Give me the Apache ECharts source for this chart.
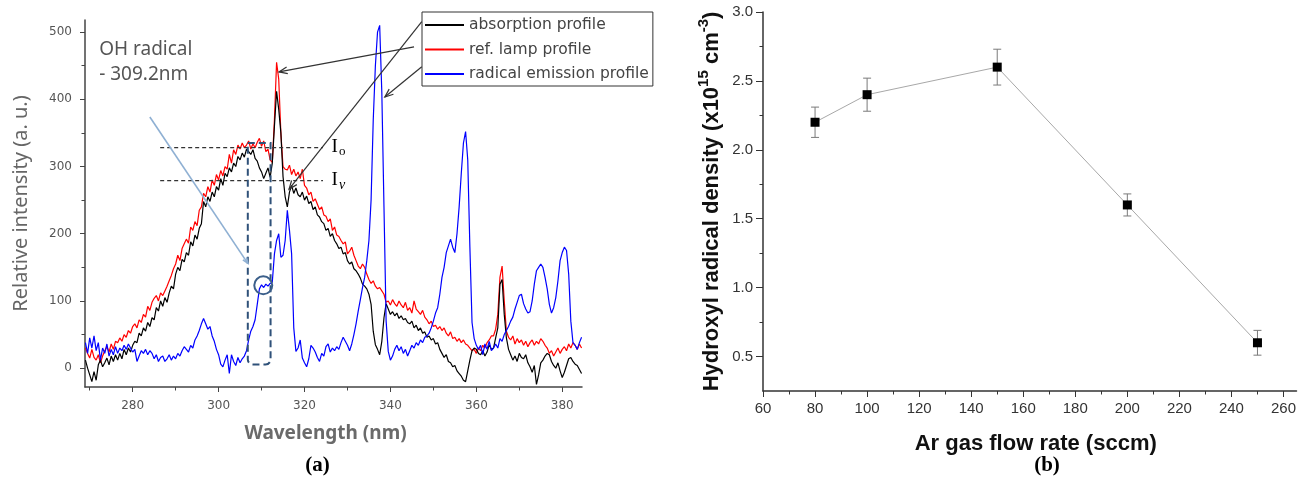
<!DOCTYPE html>
<html>
<head>
<meta charset="utf-8">
<script src="https://cdn.jsdelivr.net/npm/echarts@6/dist/echarts.min.js"></script>
<style>
  html, body { margin: 0; padding: 0; background: #fff; }
  #main { width: 1299px; height: 479px; }
</style>
</head>
<body>
<div id="main"></div>
<script>
// ---- (a) spectra: wavelength grid (nm) and three intensity profiles (a.u.) ----
const wavelengths = [
  269,269.5,270,270.5,271,271.5,272,272.5,273,273.5,
  274,274.5,275,275.5,276,276.5,277,277.5,278,278.5,
  279,279.5,280,280.5,281,281.5,282,282.5,283,283.5,
  284,284.5,285,285.5,286,286.5,287,287.5,288,288.5,
  289,289.5,290,290.5,291,291.5,292,292.5,293,293.5,
  294,294.5,295,295.5,296,296.5,297,297.5,298,298.5,
  299,299.5,300,300.5,301,301.5,302,302.5,303,303.5,
  304,304.5,305,305.5,306,306.5,307,307.5,308,308.5,
  309,309.5,310,310.5,311,311.5,312,312.5,313,313.5,
  314,314.5,315,315.5,316,316.5,317,317.5,318,318.5,
  319,319.5,320,320.5,321,321.5,322,322.5,323,323.5,
  324,324.5,325,325.5,326,326.5,327,327.5,328,328.5,
  329,329.5,330,330.5,331,331.5,332,332.5,333,333.5,
  334,334.5,335,335.5,336,336.5,337,337.5,338,338.5,
  339,339.5,340,340.5,341,341.5,342,342.5,343,343.5,
  344,344.5,345,345.5,346,346.5,347,347.5,348,348.5,
  349,349.5,350,350.5,351,351.5,352,352.5,353,353.5,
  354,354.5,355,355.5,356,356.5,357,357.5,358,358.5,
  359,359.5,360,360.5,361,361.5,362,362.5,363,363.5,
  364,364.5,365,365.5,366,366.5,367,367.5,368,368.5,
  369,369.5,370,370.5,371,371.5,372,372.5,373,373.5,
  374,374.5,375,375.5,376,376.5,377,377.5,378,378.5,
  379,379.5,380,380.5,381,381.5,382,382.5,383,383.5,
  384,384.5
];

const absorption = [
  12,0,-10,-20,-5,-18,5,12,2,8,
  15,5,18,10,20,12,22,14,28,20,
  30,24,34,40,38,52,48,60,55,68,
  62,75,72,90,85,100,92,105,98,112,
  122,118,140,150,145,162,158,172,168,188,
  182,198,192,208,215,248,240,255,248,262,
  255,270,265,282,272,290,285,298,292,305,
  300,315,310,320,314,326,322,318,325,312,
  308,298,292,282,290,298,284,305,360,412,
  385,350,285,255,240,262,272,260,268,258,
  255,262,250,256,245,248,236,240,228,225,
  218,215,205,208,196,200,190,185,178,180,
  170,172,160,155,158,148,145,140,134,125,
  122,118,110,95,55,35,28,20,40,75,
  96,88,80,84,78,82,74,78,72,74,
  68,66,70,60,64,56,60,52,54,46,
  48,42,44,36,38,28,22,16,20,10,
  8,2,4,-4,-8,-12,-18,-20,-4,12,
  26,30,28,22,20,26,18,24,35,28,
  30,45,60,125,132,80,45,28,20,12,
  18,10,22,16,14,20,8,2,-6,4,
  -24,-10,8,12,18,22,20,10,4,0,
  8,-4,-14,-6,4,14,16,10,6,4,
  -2,-8
];

const refLamp = [
  30,22,15,28,16,12,20,8,18,26,
  32,24,36,28,40,38,45,40,50,46,
  56,52,62,66,60,72,68,80,76,92,
  86,98,104,108,100,112,108,115,122,130,
  138,148,155,168,160,178,185,192,186,210,
  205,218,212,235,240,260,255,270,262,280,
  272,288,280,294,286,300,296,318,305,325,
  318,332,326,335,328,332,338,326,334,328,
  336,342,330,338,322,326,310,306,370,455,
  430,350,300,296,295,302,288,296,286,292,
  282,296,272,268,258,262,248,252,244,236,
  240,228,226,218,222,205,210,198,196,190,
  185,188,170,174,180,168,160,152,148,155,
  150,140,132,126,130,122,118,120,115,110,
  98,100,94,102,96,92,100,94,90,98,
  86,90,82,100,88,84,80,86,76,72,
  66,70,62,64,58,62,56,60,52,48,
  54,44,46,40,44,38,42,36,34,30,
  26,28,22,30,26,34,30,38,42,48,
  48,58,80,135,152,100,55,46,42,48,
  36,44,38,42,34,40,32,38,42,34,
  40,36,44,40,34,30,22,26,18,24,
  30,22,28,32,26,36,30,38,34,28,
  36,30
];

const emission = [
  38,22,45,30,48,26,38,12,30,22,
  36,18,28,20,32,22,30,26,34,28,
  36,30,24,28,10,18,26,22,28,20,
  26,22,14,20,10,16,18,10,14,20,
  12,18,14,22,18,26,32,28,24,34,
  30,42,48,56,66,74,66,58,62,48,
  40,28,20,6,2,12,20,-8,20,10,
  4,16,8,14,18,26,42,55,62,72,
  95,118,124,120,125,122,126,128,170,190,
  200,165,168,190,235,205,170,60,25,30,
  42,15,8,2,14,34,30,24,16,10,
  22,18,32,36,24,30,26,32,28,38,
  46,40,34,26,36,50,66,85,102,120,
  135,160,190,250,369,450,500,510,410,240,
  70,25,12,18,28,34,26,32,22,28,
  18,26,34,30,38,34,42,38,46,48,
  52,60,70,82,90,110,135,150,172,182,
  192,180,172,200,240,290,335,352,310,180,
  68,44,34,28,34,20,36,28,40,26,
  30,36,30,44,40,50,56,62,70,76,
  88,98,108,110,96,88,82,84,100,125,
  145,150,155,150,135,118,95,82,90,105,
  130,160,172,180,175,140,70,38,34,28,
  38,46
];

const intensityTicks = [0, 100, 200, 300, 400, 500];
const intensityMinorTicks = [50, 150, 250, 350, 450];
const wavelengthTicks = [280, 300, 320, 340, 360, 380];
const wavelengthMinorTicks = [270, 290, 310, 330, 350, 370];

// ---- (b) OH density versus Ar flow ----
const flowRates = [80, 100, 150, 200, 250];
const radicalDensity = [2.2, 2.4, 2.6, 1.6, 0.6];
const densityError = [0.11, 0.12, 0.13, 0.08, 0.09];
const flowTicks = [60, 80, 100, 120, 140, 160, 180, 200, 220, 240, 260];
const flowMinorTicks = [70, 90, 110, 130, 150, 170, 190, 210, 230, 250];
const densityTicks = [0.5, 1.0, 1.5, 2.0, 2.5, 3.0];
const densityMinorTicks = [0.75, 1.25, 1.75, 2.25, 2.75];

const pairs = (xs, ys) => xs.map((x, i) => [x, ys[i]]);

const leftLabel = { fontFamily: 'DejaVu Sans', fontSize: 12, color: '#555' };
const rightLabel = { fontFamily: 'Liberation Sans', fontSize: 15, color: '#333' };

const GRID_A = { left: 85, top: 20, width: 497, height: 367 };
const GRID_B = { left: 763, top: 12, width: 534, height: 379 };

// helper: a second, label-less axis on the same side that only carries minor ticks
function minorAxis(gridIndex, position, min, max, values, color) {
  return {
    type: 'value', gridIndex, position, min, max, offset: 0,
    axisLine: { show: false, onZero: false },
    axisTick: { show: true, customValues: values, length: 3.5, lineStyle: { color, width: 1 } },
    axisLabel: { show: false }, splitLine: { show: false }
  };
}

const option = {
  backgroundColor: '#fff',
  animation: false,
  grid: [
    Object.assign({ containLabel: false }, GRID_A),
    Object.assign({ containLabel: false }, GRID_B)
  ],
  legend: {
    data: ['absorption profile', 'ref. lamp profile', 'radical emission profile'],
    orient: 'vertical',
    left: 422, top: 12,
    itemWidth: 39, itemHeight: 14, itemGap: 8.5,
    padding: [5, 4, 4, 2],
    borderColor: '#333', borderWidth: 1,
    backgroundColor: '#fff',
    selectedMode: false,
    itemStyle: { opacity: 0, borderWidth: 0 },
    textStyle: { fontFamily: 'DejaVu Sans', fontSize: 15.5, color: '#444' }
  },
  xAxis: [
    {
      type: 'value', gridIndex: 0, position: 'bottom', min: 268.9, max: 384.6,
      name: 'Wavelength (nm)', nameLocation: 'middle', nameGap: 37,
      nameTextStyle: { fontFamily: 'Noto Sans', fontSize: 19, fontWeight: 'bold', color: '#6a6a6a', padding: [0, 16, 0, 0] },
      axisLine: { show: true, onZero: false, lineStyle: { color: '#444', width: 1.5 } },
      axisTick: { show: true, customValues: wavelengthTicks, length: 5, lineStyle: { color: '#444' } },
      axisLabel: Object.assign({ customValues: wavelengthTicks, margin: 13 }, leftLabel),
      splitLine: { show: false }
    },
    minorAxis(0, 'bottom', 268.9, 384.6, wavelengthMinorTicks, '#444'),
    {
      type: 'value', gridIndex: 1, position: 'bottom', min: 60, max: 265,
      name: 'Ar gas flow rate (sccm)', nameLocation: 'middle', nameGap: 42,
      nameTextStyle: { fontFamily: 'Liberation Sans', fontSize: 22, fontWeight: 'bold', color: '#111', padding: [0, 0, 0, 12] },
      axisLine: { show: true, onZero: false, lineStyle: { color: '#333', width: 1.5 } },
      axisTick: { show: true, customValues: flowTicks, length: 6, lineStyle: { color: '#333' } },
      axisLabel: Object.assign({ customValues: flowTicks, margin: 10 }, rightLabel),
      splitLine: { show: false }
    },
    minorAxis(1, 'bottom', 60, 265, flowMinorTicks, '#333')
  ],
  yAxis: [
    {
      type: 'value', gridIndex: 0, position: 'left', min: -28, max: 518,
      name: 'Relative intensity (a. u.)', nameLocation: 'middle', nameGap: 54, nameRotate: 90,
      nameTextStyle: { fontFamily: 'Noto Sans', fontSize: 20, color: '#666' },
      axisLine: { show: true, onZero: false, lineStyle: { color: '#444', width: 1.5 } },
      axisTick: { show: true, customValues: intensityTicks, length: 5, lineStyle: { color: '#444' } },
      axisLabel: Object.assign({ customValues: intensityTicks, margin: 13 }, leftLabel),
      splitLine: { show: false }
    },
    minorAxis(0, 'left', -28, 518, intensityMinorTicks, '#444'),
    {
      type: 'value', gridIndex: 1, position: 'left', min: 0.25, max: 3.0,
      name: '{t|Hydroxyl radical density (x10}{s|15}{t| cm}{s|-3}{t|)}',
      nameLocation: 'middle', nameGap: 40, nameRotate: 90,
      nameTextStyle: {
        rich: {
          t: { fontFamily: 'Liberation Sans', fontWeight: 'bold', fontSize: 22, color: '#111', verticalAlign: 'bottom' },
          s: { fontFamily: 'Liberation Sans', fontWeight: 'bold', fontSize: 15, color: '#111', verticalAlign: 'top', padding: [0, 0, 12, 0] }
        }
      },
      axisLine: { show: true, onZero: false, lineStyle: { color: '#333', width: 1.5 } },
      axisTick: { show: true, customValues: densityTicks, length: 7, lineStyle: { color: '#333' } },
      axisLabel: Object.assign({ customValues: densityTicks, margin: 10, formatter: v => v.toFixed(1) }, rightLabel),
      splitLine: { show: false }
    },
    minorAxis(1, 'left', 0.25, 3.0, densityMinorTicks, '#333')
  ],
  series: [
    {
      name: 'ref. lamp profile', type: 'line', xAxisIndex: 0, yAxisIndex: 0,
      data: pairs(wavelengths, refLamp), symbol: 'none', showSymbol: false,
      lineStyle: { color: '#ff0000', width: 1.2 }, itemStyle: { color: '#ff0000' }
    },
    {
      name: 'absorption profile', type: 'line', xAxisIndex: 0, yAxisIndex: 0,
      data: pairs(wavelengths, absorption), symbol: 'none', showSymbol: false,
      lineStyle: { color: '#000000', width: 1.2 }, itemStyle: { color: '#000000' }
    },
    {
      name: 'radical emission profile', type: 'line', xAxisIndex: 0, yAxisIndex: 0,
      data: pairs(wavelengths, emission), symbol: 'none', showSymbol: false,
      lineStyle: { color: '#0000ff', width: 1.2 }, itemStyle: { color: '#0000ff' }
    },
    {
      name: 'error', type: 'custom', xAxisIndex: 2, yAxisIndex: 2,
      data: flowRates.map((f, i) => [f, radicalDensity[i], densityError[i]]),
      encode: { x: 0, y: 1 },
      renderItem: function (params, api) {
        const x = api.value(0), y = api.value(1), e = api.value(2);
        const hi = api.coord([x, y + e]);
        const lo = api.coord([x, y - e]);
        const hw = 4;
        const st = { stroke: '#7a7a7a', lineWidth: 1 };
        return {
          type: 'group',
          children: [
            { type: 'line', shape: { x1: hi[0], y1: hi[1], x2: lo[0], y2: lo[1] }, style: st },
            { type: 'line', shape: { x1: hi[0] - hw, y1: hi[1], x2: hi[0] + hw, y2: hi[1] }, style: st },
            { type: 'line', shape: { x1: lo[0] - hw, y1: lo[1], x2: lo[0] + hw, y2: lo[1] }, style: st }
          ]
        };
      },
      z: 1
    },
    {
      name: 'OH density', type: 'line', xAxisIndex: 2, yAxisIndex: 2,
      data: pairs(flowRates, radicalDensity),
      symbol: 'rect', symbolSize: 9, showSymbol: true,
      lineStyle: { color: '#a8a8a8', width: 1 },
      itemStyle: { color: '#000' },
      z: 3
    }
  ]
};

const chart = echarts.init(document.getElementById('main'));
chart.setOption(option);

// ---- annotations placed in the spectrum's data space ----
const toPx = p => chart.convertToPixel({ xAxisIndex: 0, yAxisIndex: 0 }, p);

function arrow(from, to, color, width, head) {
  const a = toPx(from), b = toPx(to);
  const ang = Math.atan2(b[1] - a[1], b[0] - a[0]);
  const spread = 0.38;
  const p1 = [b[0] - head * Math.cos(ang - spread), b[1] - head * Math.sin(ang - spread)];
  const p2 = [b[0] - head * Math.cos(ang + spread), b[1] - head * Math.sin(ang + spread)];
  return [
    { type: 'line', z: 20, shape: { x1: a[0], y1: a[1], x2: b[0], y2: b[1] }, style: { stroke: color, lineWidth: width } },
    { type: 'polyline', z: 20, shape: { points: [p1, b, p2] }, style: { stroke: color, lineWidth: width, fill: null } }
  ];
}

const boxA = toPx([306.8, 335]);
const boxB = toPx([312.1, 5.5]);
const ring = toPx([310.4, 123.3]);
const i0a = toPx([286.4, 328]), i0b = toPx([324.3, 328]);
const iva = toPx([286.4, 279]), ivb = toPx([324.3, 279]);
const i0Label = toPx([326.3, 328]);
const ivLabel = toPx([326.3, 278]);
const ohLabel = toPx([272.2, 455]);

const ILabelRich = {
  i: { fontFamily: 'Liberation Serif', fontSize: 19, color: '#5e4b26', verticalAlign: 'top' },
  o: { fontFamily: 'Liberation Serif', fontSize: 13, color: '#5e4b26', verticalAlign: 'bottom', padding: [8, 0, 0, 1] },
  v: { fontFamily: 'Liberation Serif', fontSize: 14, fontStyle: 'italic', color: '#5e4b26', verticalAlign: 'bottom', padding: [8, 0, 0, 1] }
};

const graphics = [].concat(
  arrow([345.5, 478], [314.06, 440.8], '#333', 1.2, 9),
  arrow([347.3, 515.4], [316.4, 266.4], '#333', 1.2, 9),
  arrow([347.3, 448.4], [338.7, 403.5], '#333', 1.2, 9),
  arrow([284.0, 373.7], [306.8, 156], '#8fb0d3', 1.6, 6),
  [
    { type: 'line', z: 15, shape: { x1: i0a[0], y1: i0a[1], x2: i0b[0], y2: i0b[1] }, style: { stroke: '#333', lineWidth: 1.2, lineDash: [4, 3] } },
    { type: 'line', z: 15, shape: { x1: iva[0], y1: iva[1], x2: ivb[0], y2: ivb[1] }, style: { stroke: '#333', lineWidth: 1.2, lineDash: [4, 3] } },
    {
      type: 'rect', z: 15,
      shape: { x: boxA[0], y: boxA[1], width: boxB[0] - boxA[0], height: boxB[1] - boxA[1], r: [0, 0, 5, 5] },
      style: { stroke: '#2f5179', lineWidth: 2, lineDash: [7, 4], fill: null }
    },
    { type: 'circle', z: 15, shape: { cx: ring[0], cy: ring[1], r: 9 }, style: { stroke: '#3b5f8a', lineWidth: 2, fill: null } },
    { type: 'text', z: 20, x: i0Label[0], y: i0Label[1], style: { text: '{i|I}{o|o}', rich: ILabelRich, verticalAlign: 'middle' } },
    { type: 'text', z: 20, x: ivLabel[0], y: ivLabel[1], style: { text: '{i|I}{v|ν}', rich: ILabelRich, verticalAlign: 'middle' } },
    {
      type: 'text', z: 20, x: ohLabel[0], y: ohLabel[1],
      style: { text: 'OH radical\n- 309.2nm', fontFamily: 'Noto Sans', fontSize: 19, lineHeight: 25, fill: '#555', verticalAlign: 'middle' }
    },
    { type: 'text', z: 20, x: 317.5, y: 466, style: { text: '(a)', fontFamily: 'Liberation Serif', fontWeight: 'bold', fontSize: 21, fill: '#000', align: 'center', verticalAlign: 'middle' } },
    { type: 'text', z: 20, x: 1047, y: 466, style: { text: '(b)', fontFamily: 'Liberation Serif', fontWeight: 'bold', fontSize: 21, fill: '#000', align: 'center', verticalAlign: 'middle' } }
  ]
);

chart.setOption({ graphic: graphics });
</script>
</body>
</html>
